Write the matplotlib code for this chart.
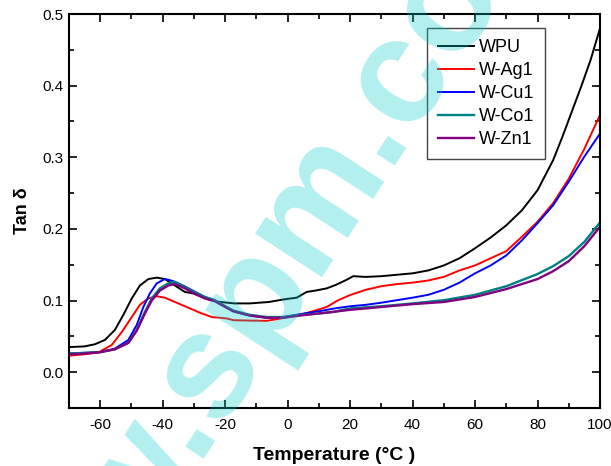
import matplotlib
matplotlib.use("Agg")
import matplotlib.pyplot as plt
from matplotlib.ticker import MultipleLocator

plt.rcParams['font.family'] = ['Liberation Sans', 'DejaVu Sans']

# ---- data ----
wpu_t = [-70, -65, -61.7, -58.5, -55.3, -52.6, -49.9, -47.3, -44.6, -41.9, -39.3, -36.1, -32.9, -30.2, -28, -25,
         -21.7, -17, -12.1, -6, -1.4, 2.9, 6.1, 9, 12.5, 15.5, 18.9, 21, 25, 30, 35, 40, 45, 50, 55, 60, 65, 70,
         75, 80, 85, 88, 91, 94, 97, 100]
wpu_v = [0.035, 0.036, 0.039, 0.045, 0.059, 0.080, 0.103, 0.121, 0.130, 0.132, 0.130, 0.121, 0.112, 0.110,
         0.106, 0.101, 0.098, 0.096, 0.096, 0.098, 0.1015, 0.104, 0.112, 0.114, 0.117, 0.122, 0.129, 0.134,
         0.133, 0.134, 0.136, 0.138, 0.142, 0.149, 0.159, 0.173, 0.188, 0.205, 0.226, 0.254, 0.296, 0.329,
         0.364, 0.399, 0.436, 0.480]

ag_t = [-70, -65, -60.6, -56.3, -53.1, -49.9, -47.3, -44.6, -41.9, -39.3, -35, -30.2, -28.1, -24.3, -19.5,
        -17.4, -12, -6.7, -2, 3.9, 8, 12.5, 16, 19.9, 25, 30, 35, 40, 45, 50, 55, 60, 65, 70, 75, 80, 85, 90,
        95, 100]
ag_v = [0.023, 0.025, 0.0275, 0.038, 0.056, 0.077, 0.094, 0.103, 0.106, 0.104, 0.096, 0.087, 0.083, 0.077,
        0.075, 0.0726, 0.072, 0.0717, 0.075, 0.080, 0.085, 0.091, 0.100, 0.1075, 0.115, 0.120, 0.123, 0.125,
        0.128, 0.133, 0.142, 0.149, 0.159, 0.169, 0.189, 0.210, 0.236, 0.270, 0.312, 0.359]

cu_t = [-70, -65, -60, -55.3, -51, -48.3, -46.2, -44.1, -41.9, -39.3, -37.7, -36, -33, -30, -26.5, -23.3,
        -17.4, -12.1, -6.7, -1.4, 3.9, 10, 15, 20, 25, 30, 35, 40, 45, 50, 55, 60, 65, 70, 75, 80, 85, 90, 95,
        100]
cu_v = [0.026, 0.027, 0.028, 0.033, 0.045, 0.066, 0.091, 0.110, 0.124, 0.130, 0.1285, 0.126, 0.120, 0.113,
        0.105, 0.100, 0.085, 0.079, 0.076, 0.077, 0.081, 0.085, 0.089, 0.092, 0.094, 0.097, 0.1005, 0.104,
        0.108, 0.115, 0.125, 0.138, 0.149, 0.163, 0.184, 0.208, 0.233, 0.266, 0.301, 0.333]

co_t = [-70, -65, -60, -55.3, -51, -48.3, -45.7, -43.5, -40.9, -38.2, -36.1, -32.9, -30, -26.5, -23.3, -20,
        -17.4, -12.1, -6.7, -1.4, 3.9, 10, 14.6, 19.9, 30, 40, 50, 60, 70, 80, 85, 90, 95, 100]
co_v = [0.026, 0.027, 0.028, 0.032, 0.041, 0.059, 0.084, 0.103, 0.117, 0.124, 0.126, 0.119, 0.112, 0.105,
        0.1005, 0.092, 0.086, 0.080, 0.077, 0.077, 0.080, 0.082, 0.084, 0.089, 0.092, 0.096, 0.1005, 0.108,
        0.120, 0.137, 0.148, 0.162, 0.182, 0.209]

zn_t = [-70, -65, -60, -55.3, -51, -48.3, -45.7, -43.5, -40.9, -38.2, -36.1, -32.9, -30, -26.5, -23.3, -20,
        -17.4, -12.1, -6.7, -1.4, 3.9, 10, 20, 30, 40, 50, 60, 70, 80, 85, 90, 95, 100]
zn_v = [0.025, 0.026, 0.028, 0.032, 0.041, 0.058, 0.082, 0.100, 0.114, 0.121, 0.123, 0.117, 0.110, 0.103,
        0.099, 0.091, 0.085, 0.079, 0.076, 0.076, 0.079, 0.082, 0.087, 0.091, 0.095, 0.098, 0.105, 0.116,
        0.130, 0.141, 0.155, 0.176, 0.203]

series = [
    ("WPU", wpu_t, wpu_v, "black"),
    ("W-Ag1", ag_t, ag_v, "#ff0000"),
    ("W-Cu1", cu_t, cu_v, "#0000ff"),
    ("W-Co1", co_t, co_v, "#008080"),
    ("W-Zn1", zn_t, zn_v, "#800080"),
]

x_ticks = [-60, -40, -20, 0, 20, 40, 60, 80, 100]
y_ticks = [0.0, 0.1, 0.2, 0.3, 0.4, 0.5]

fig = plt.figure(figsize=(6.11, 4.66), dpi=100)
ax = fig.add_axes([69 / 611, 1 - 408 / 466, 531 / 611, 394 / 466])

for name, t, v, c in series:
    lw = 1.7 if name in ("W-Co1", "W-Zn1") else 1.4
    ax.plot(t, v, color=c, lw=lw, label=name)

ax.set_xlim(-70, 100)
ax.set_ylim(-0.05, 0.5)
ax.set_xticks(x_ticks)
ax.set_xticklabels([f"{t:d}" for t in x_ticks])
ax.set_yticks(y_ticks)
ax.set_yticklabels([f"{t:.1f}" for t in y_ticks])
ax.xaxis.set_minor_locator(MultipleLocator(10))
ax.yaxis.set_minor_locator(MultipleLocator(0.05))
ax.tick_params(which='both', direction='in', top=True, right=True, width=1.2, colors='black')
ax.tick_params(which='major', length=6, labelsize=11)
ax.tick_params(which='minor', length=3.5)
ax.tick_params(axis='x', pad=7)
ax.tick_params(axis='y', pad=4)
for s in ax.spines.values():
    s.set_linewidth(1.5)

ax.set_xlabel("Temperature (°C )", fontsize=14, fontweight='bold', labelpad=11)
ax.set_ylabel("Tan δ", fontsize=13, fontweight='bold', labelpad=8)

leg = ax.legend(loc='upper left', bbox_to_anchor=(0.674, 0.964), borderaxespad=0,
                fontsize=13, handlelength=2.0, handletextpad=0.3, labelspacing=0.33,
                borderpad=0.6, fancybox=False, framealpha=1)
leg.get_frame().set_edgecolor('#444444')
leg.get_frame().set_linewidth(1.0)

# watermark
fig.text(356 / 611, 1 - 227 / 466, "www.spm.com.cn", fontsize=108, fontweight='bold',
         color='#00cccc', alpha=0.3, rotation=56.9, rotation_mode='anchor',
         ha='center', va='baseline', zorder=10)

fig.savefig("out.png", dpi=100)
